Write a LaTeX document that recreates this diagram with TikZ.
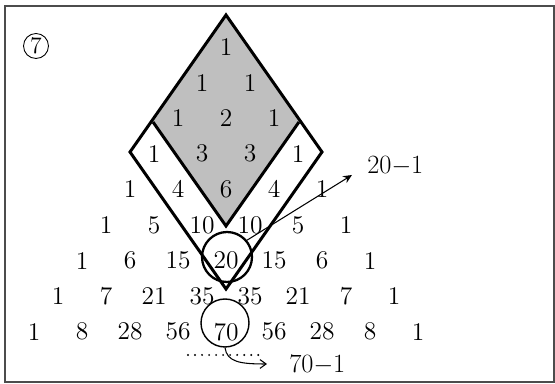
\documentclass[tikz,border=0pt]{standalone}
\usepackage{tikz}
\usetikzlibrary{arrows.meta}
\tikzset{
  entry/.style={
    font=\fontsize{14.5}{17}\selectfont,
    inner sep=0pt,
  },
  label/.style={
    font=\fontsize{15}{18}\selectfont,
    inner sep=0pt,
    anchor=west,
  },
  tag/.style={
    draw,
    circle,
    minimum size=0.5cm,
    inner sep=0pt,
    line width=0.5pt,
    font=\fontsize{13.5}{16}\selectfont,
  },
  ring/.style={
    draw,
    circle,
    minimum size=1cm,
    inner sep=0pt,
  },
  rim/.style={line width=1.7pt},
  pointer/.style={line width=0.6pt},
  dots/.style={line width=1.2pt, line cap=round, dash pattern=on 0pt off 4pt},
  frame/.style={line width=0.6pt, black!70},
}
\begin{document}
\begin{tikzpicture}[x=0.02cm, y=-0.02cm]
  \useasboundingbox (0,0) rectangle (555,384);
  \draw[frame] (5,6) rectangle (554,382);
  \node[tag] (seven) at (36,46) {7};

  % corners of the two rhombi
  \coordinate (top) at (226,15);
  \coordinate (oleft) at (130,152);
  \coordinate (oright) at (322,152);
  \coordinate (obot) at (226,289);
  \coordinate (gleft) at (153,122);
  \coordinate (gright) at (299,122);
  \coordinate (gbot) at (226,226);
  \fill[black!25] (top) -- (gleft) -- (gbot) -- (gright) -- cycle;

  % Pascal's triangle
  \foreach \row [count=\r from 0] in {{1},{1,1},{1,2,1},{1,3,3,1},{1,4,6,4,1},
      {1,5,10,10,5,1},{1,6,15,20,15,6,1},{1,7,21,35,35,21,7,1},
      {1,8,28,56,70,56,28,8,1}} {
    \foreach \v [count=\k from 0] in \row {
      \node[entry] (p\r-\k) at ({226+24*(2*\k-\r)}, {47+35.6*\r}) {\v};
    }
  }

  \draw[rim] (top) -- (oleft) -- (obot) -- (oright) -- cycle;
  \draw[rim] (gleft) -- (gbot) -- (gright);

  \node[ring, line width=1.3pt] (c20) at (227,257) {};
  \node[ring, minimum size=0.96cm, line width=0.8pt] (c70) at (225,323) {};

  \coordinate (t20) at (352,175);
  \draw[pointer, -{Stealth[length=5pt, width=4.5pt]}] (c20.40) -- (t20);
  \node[label] (l20) at (367,166) {20$-$1};

  \coordinate (d0) at (188,355);
  \coordinate (d1) at (262,355);
  \draw[dots] (d0) -- (d1);
  \coordinate (t70) at (267,364);
  \draw[pointer, -{Straight Barb[length=3.5pt, width=5pt]}] (c70.south)
    .. controls (227,362) and (240,364) .. (t70);
  \node[label] (l70) at (289,365) {70$-$1};
\end{tikzpicture}
\end{document}
